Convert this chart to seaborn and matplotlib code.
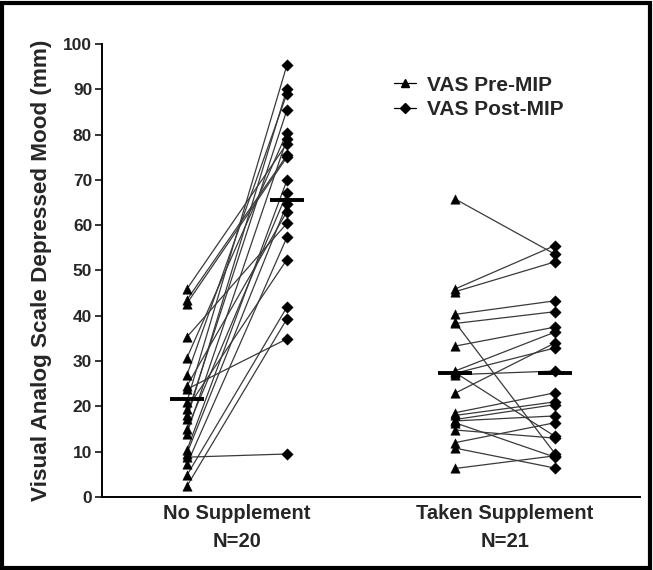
import numpy as np
import pandas as pd
import matplotlib
matplotlib.use("Agg")
import matplotlib.pyplot as plt
from matplotlib.lines import Line2D
from matplotlib.patches import Rectangle
import seaborn as sns

# ---------------- data ----------------
groups = ["No Supplement\nN=20", "Taken Supplement\nN=21"]

no_pre = [45.9, 43.5, 42.7, 35.3, 30.7, 26.9, 24.5, 23.8, 21.0, 19.5,
          18.0, 17.2, 15.0, 14.0, 10.3, 9.6, 8.8, 7.2, 4.8, 2.4]
no_post = [78.0, 75.4, 75.0, 60.4, 80.4, 89.0, 63.0, 34.9, 95.3, 52.4,
           85.4, 90.0, 67.0, 79.0, 69.9, 64.6, 9.5, 57.3, 41.9, 39.3]

tk_pre = [65.8, 45.9, 45.3, 40.3, 38.3, 38.6, 33.3, 27.8, 27.3, 27.0,
          27.5, 22.9, 18.6, 18.0, 17.1, 16.8, 16.4, 14.8, 12.0, 10.8, 6.3]
tk_post = [53.6, 55.5, 51.9, 43.3, 40.9, 9.6, 37.5, 36.4, 32.9, 27.8,
           13.4, 34.0, 23.0, 21.0, 20.4, 17.9, 8.8, 13.0, 16.4, 6.4, 9.1]

# group means as drawn (horizontal bars)
no_means = [21.6, 65.5]
tk_means = [27.3, 27.3]

yticks = list(range(0, 101, 10))
ylabel = "Visual Analog Scale Depressed Mood (mm)"
legend_labels = ["VAS Pre-MIP", "VAS Post-MIP"]

# ---------------- build long table ----------------
pos = {("no", "pre"): 0.0, ("no", "post"): 1.0,
       ("tk", "pre"): 2.68, ("tk", "post"): 3.68}
rows = []
for i, (a, b) in enumerate(zip(no_pre, no_post)):
    rows.append(dict(subj=f"n{i}", x=pos[("no", "pre")], y=a, time="pre"))
    rows.append(dict(subj=f"n{i}", x=pos[("no", "post")], y=b, time="post"))
for i, (a, b) in enumerate(zip(tk_pre, tk_post)):
    rows.append(dict(subj=f"t{i}", x=pos[("tk", "pre")], y=a, time="pre"))
    rows.append(dict(subj=f"t{i}", x=pos[("tk", "post")], y=b, time="post"))
df = pd.DataFrame(rows)

sns.set_style("white")
plt.rcParams["font.family"] = ["Liberation Sans", "DejaVu Sans"]
plt.rcParams["font.weight"] = "bold"

fig = plt.figure(figsize=(6.53, 5.70), dpi=100)
ax = fig.add_axes([0.156, 0.128, 0.824, 0.795])

sns.lineplot(data=df, x="x", y="y", units="subj", estimator=None,
             color="#3a3a3a", lw=0.9, ax=ax, legend=False, sort=False)
sns.scatterplot(data=df[df.time == "pre"], x="x", y="y", marker="^",
                s=46, color="black", edgecolor="black", linewidth=0.3,
                ax=ax, legend=False, zorder=3)
sns.scatterplot(data=df[df.time == "post"], x="x", y="y", marker="D",
                s=34, color="black", edgecolor="black", linewidth=0.3,
                ax=ax, legend=False, zorder=3)

# mean bars
hw = 0.17
for xc, m in zip([pos[("no", "pre")], pos[("no", "post")]], no_means):
    ax.plot([xc - hw, xc + hw], [m, m], color="black", lw=2.8, zorder=4,
            solid_capstyle="butt")
for xc, m in zip([pos[("tk", "pre")], pos[("tk", "post")]], tk_means):
    ax.plot([xc - hw, xc + hw], [m, m], color="black", lw=2.8, zorder=4,
            solid_capstyle="butt")

ax.set_xlim(-0.85, 4.53)
ax.set_ylim(0, 100)
ax.set_yticks(yticks)
ax.set_yticklabels([str(t) for t in yticks], fontsize=12.5, fontweight="bold")
ax.set_xticks([0.5, 3.18])
ax.set_xticklabels(groups, fontsize=14.5, fontweight="bold", linespacing=1.6)
ax.tick_params(axis="x", length=0, pad=5)
ax.tick_params(axis="y", length=5, width=1.3, direction="out", pad=2, left=True)
ax.set_xlabel("")
ax.set_ylabel(ylabel, fontsize=16.2, fontweight="bold", labelpad=8)
for s in ["top", "right"]:
    ax.spines[s].set_visible(False)
for s in ["left", "bottom"]:
    ax.spines[s].set_color("black")
    ax.spines[s].set_linewidth(1.4)

handles = [
    Line2D([0], [0], color="black", lw=0.9, marker="^", markersize=6),
    Line2D([0], [0], color="black", lw=0.9, marker="D", markersize=5),
]
ax.legend(handles, legend_labels, loc="upper left",
          bbox_to_anchor=(0.543, 0.93), frameon=False, borderpad=0,
          borderaxespad=0,
          prop=dict(size=15, weight="bold"), handlelength=1.05,
          handletextpad=0.55, labelspacing=0.25)

fig.patches.append(Rectangle((0.003, 0.004), 0.993, 0.991,
                             transform=fig.transFigure, fill=False,
                             edgecolor="black", lw=3))

fig.savefig("out.png", dpi=100)
